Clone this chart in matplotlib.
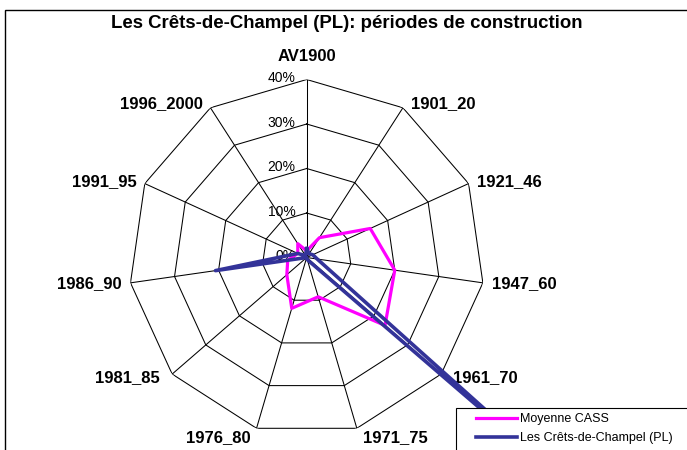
import matplotlib
matplotlib.use('Agg')

import numpy as np
import matplotlib.pyplot as plt
from matplotlib.patches import Rectangle


categories = ["AV1900", "1901_20", "1921_46", "1947_60", "1961_70", "1971_75",
              "1976_80", "1981_85", "1986_90", "1991_95", "1996_2000"]
cass = [1.5, 5.3, 15.7, 20.0, 23.3, 9.2, 11.9, 5.9, 4.3, 2.2, 3.7]
champel = [2.0, 1.0, 1.5, 2.4, 80.0, 0.5, 0.0, 0.0, 20.7, 2.2, 0.5]
rings = [0, 10, 20, 30, 40]

plt.rcParams['font.family'] = ['Liberation Sans', 'DejaVu Sans']

W, H = 687, 450
PX = 0.72  # points per pixel at 100 dpi

fig = plt.figure(figsize=(W / 100, H / 100), dpi=100)
ax = fig.add_axes([0.1873, 0.0322, 0.5182, 0.7911], projection='polar')
ax.set_theta_zero_location('N')
ax.set_theta_direction(-1)
ax.set_ylim(0, 40)
ax.grid(False)
ax.set_xticks([])
ax.set_yticks([])
ax.spines['polar'].set_visible(False)

n = len(categories)
theta = np.linspace(0, 2 * np.pi, n, endpoint=False)
theta_c = np.append(theta, theta[0])

# polygon grid + spokes
for r in rings[1:]:
    ax.plot(theta_c, [r] * (n + 1), color='black', lw=0.75, zorder=1)
for t in theta:
    ax.plot([t, t], [0, 40], color='black', lw=0.75, zorder=1)

# radial labels
for r in rings:
    ax.annotate(f"{r}%", xy=(0, r), xytext=(-8, 1), textcoords='offset points',
                ha='right', va='center', fontsize=10)

# category labels
for t, lab in zip(theta, categories):
    s, c = np.sin(t), np.cos(t)
    if abs(s) < 0.2:
        ha, dx, dy = 'center', 0, 23
    elif c < -0.9:
        ha = 'left' if s > 0 else 'right'
        dx, dy = 6 * np.sign(s), -9
    else:
        ha = 'left' if s > 0 else 'right'
        dx = (8 + 6 * max(0, -c)) * np.sign(s)
        dy = 5 * c
    ax.annotate(lab, xy=(t, 40), xytext=(dx * PX, dy * PX), textcoords='offset points',
                ha=ha, va='center', fontsize=12, fontweight='bold')

l1, = ax.plot(theta_c, cass + cass[:1], color='#FF00FF', lw=2.3,
              label='Moyenne CASS', clip_on=False, zorder=3)
l2, = ax.plot(theta_c, champel + champel[:1], color='#333399', lw=2.6,
              label='Les Crêts-de-Champel (PL)', clip_on=False, zorder=4)

fig.text(347 / W, 1 - 24 / H, "Les Crêts-de-Champel (PL): périodes de construction",
         ha='center', va='center', fontsize=13.4, fontweight='bold')

# legend box (cropped by the picture edges, like the reference)
fig.patches.append(Rectangle((456 / W, -0.2), 1.0, 0.2 + 1 - 408 / H,
                             transform=fig.transFigure, facecolor='white',
                             edgecolor='black', lw=0.8, zorder=1))
leg = fig.legend(handles=[l1, l2], loc='upper left',
                 bbox_to_anchor=(476 / W, 1 - 413 / H),
                 fontsize=9, frameon=False, handlelength=3.3, handletextpad=0.18,
                 borderpad=0, labelspacing=0.55, borderaxespad=0)
leg.set_zorder(10)

# outer chart frame (cropped at right and bottom)
fig.patches.append(Rectangle((5 / W, -0.5), 2, 1.5 - 10 / H,
                             transform=fig.transFigure, fill=False,
                             edgecolor='black', lw=1.0, zorder=2))

fig.savefig("out.png", dpi=100)
